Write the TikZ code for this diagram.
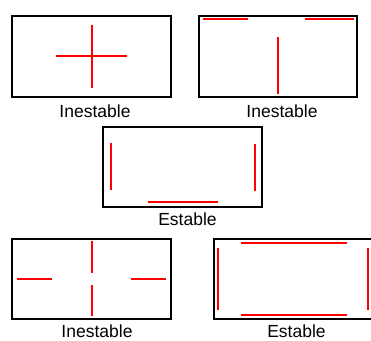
\documentclass[tikz,border=0pt]{standalone}
\usepackage{fontspec}
\setmainfont{Liberation Sans}
\usetikzlibrary{positioning}

\begin{document}
\begin{tikzpicture}[
    x=1pt, y=-1pt,
    frame/.style={rectangle, draw, line width=1.3pt, minimum width=159pt, minimum height=81pt, inner sep=0pt},
    bar/.style={draw=red, line width=1.8pt},
    caption/.style={anchor=base, font=\fontsize{17.5}{20}\selectfont}
]
\useasboundingbox (0,0) rectangle (371,340);

% Frames
\node[frame] (crossbox) at (91.5,56.5) {};
\node[frame, minimum width=158pt] (teebox) at (278,56.5) {};
\node[frame, minimum height=80pt] (openbox) at (182.5,167) {};
\node[frame, minimum height=80pt] (gapbox) at (91.5,279) {};
\node[frame, minimum width=160pt, minimum height=80pt] (fullbox) at (294,279) {};

% Captions
\node[caption] (crosslbl) at (95,117) {Inestable};
\node[caption] (teelbl) at (282,117) {Inestable};
\node[caption] (openlbl) at (187.5,225) {Estable};
\node[caption] (gaplbl) at (97,337) {Inestable};
\node[caption] (fulllbl) at (296.5,337) {Estable};

% Cross
\draw[bar] (56,56) -- (127,56);
\draw[bar] (92,25) -- (92,88);

% Two top bars and a post
\draw[bar] (203,19) -- (248,19);
\draw[bar] (305,19) -- (354,19);
\draw[bar] (278,37) -- (278,94);

% Open at the top
\draw[bar] (111,143) -- (111,190);
\draw[bar] (255,144) -- (255,191);
\draw[bar] (148,202) -- (218,202);

% Broken cross
\draw[bar] (17,279) -- (52,279);
\draw[bar] (131,279) -- (166,279);
\draw[bar] (92,241) -- (92,273);
\draw[bar] (92,285) -- (92,316);

% Closed ring
\draw[bar] (241,243) -- (347,243);
\draw[bar] (241,315) -- (347,315);
\draw[bar] (218,248) -- (218,310);
\draw[bar] (368,248) -- (368,310);

\end{tikzpicture}
\end{document}
